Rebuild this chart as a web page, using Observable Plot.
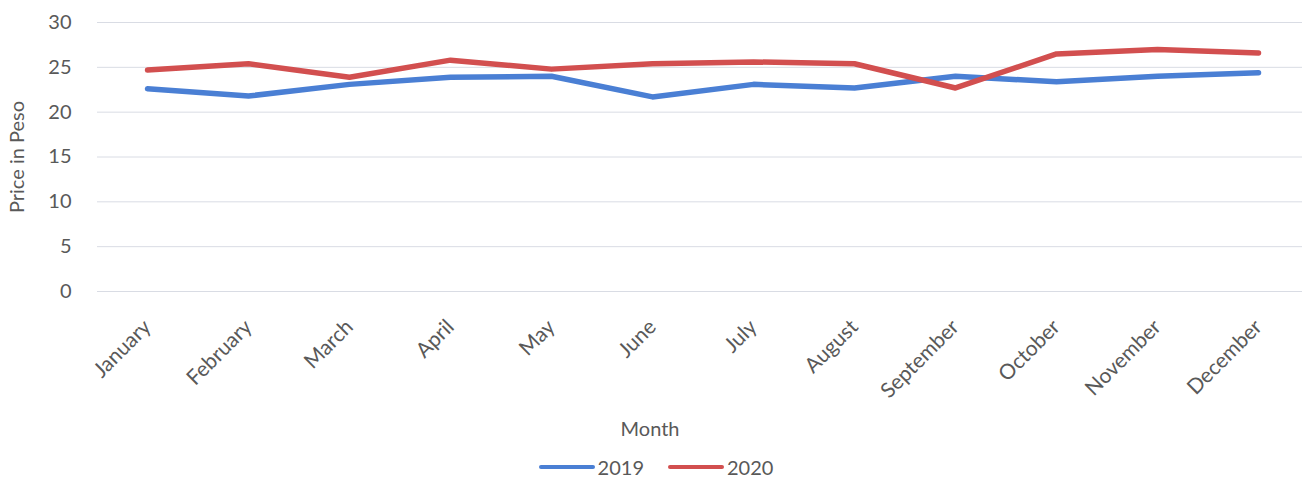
<!DOCTYPE html>
<html>
<head>
<meta charset="utf-8">
<script src="https://cdn.jsdelivr.net/npm/d3@7"></script>
<script src="https://cdn.jsdelivr.net/npm/@observablehq/plot@0.6"></script>
<style>
  html, body { margin: 0; padding: 0; background: #ffffff; }
  #chart svg { display: block; }
  #legend { display: flex; justify-content: center; align-items: center; height: 30px; font-family: Lato, sans-serif; font-size: 20px; color: #595959; gap: 0; padding-left: 10px; }
  .item { display: flex; align-items: center; margin: 0 12px; }
  .sw { width: 56px; height: 4px; margin-right: 3px; border-radius: 2px; }
</style>
</head>
<body>
<div id="chart"></div>
<div id="legend"></div>
<script>
const months = ["January","February","March","April","May","June","July","August","September","October","November","December"];
const series = ["2019", "2020"];
const v2019 = [22.6, 21.8, 23.1, 23.9, 24.0, 21.7, 23.1, 22.7, 24.0, 23.4, 24.0, 24.4];
const v2020 = [24.7, 25.4, 23.9, 25.8, 24.8, 25.4, 25.6, 25.4, 22.7, 26.5, 27.0, 26.6];
const yTicks = [0, 5, 10, 15, 20, 25, 30];
const colors = ["#4a7fd4", "#d24f4f"];

const data = [];
months.forEach((m, i) => {
  data.push({month: m, year: series[0], price: v2019[i]});
  data.push({month: m, year: series[1], price: v2020[i]});
});

const W = 1302, H = 452;
const plot = Plot.plot({
  width: W,
  height: H,
  marginLeft: 97,
  marginRight: 0,
  marginTop: 22,
  marginBottom: 161,
  style: {fontFamily: "Lato, sans-serif", fontSize: "20px", color: "#595959", background: "#ffffff"},
  x: {type: "point", domain: months, range: [143, 1262], padding: 0},
  y: {domain: [0, 30], range: [291, 22]},
  color: {domain: series, range: colors},
  marks: [
    Plot.gridY(yTicks, {stroke: "#d9dce4", strokeOpacity: 1, strokeWidth: 1}),
    Plot.axisY(yTicks, {tickSize: 0, tickPadding: 26, fontSize: 20, label: "Price in Peso", labelAnchor: "center", labelOffset: 88, labelArrow: "none"}),
    Plot.axisX({tickSize: 0, tickPadding: 32, tickRotate: -45, fontSize: 21, dx: 0, label: null}),
    Plot.text(["Month"], {frameAnchor: "bottom", dy: 138, dx: -50, fontSize: 20, fill: "#595959", lineAnchor: "middle"}),
    Plot.line(data, {x: "month", y: "price", z: "year", stroke: "year", strokeWidth: 5.5, strokeLinejoin: "round", strokeLinecap: "round"})
  ]
});
document.getElementById("chart").appendChild(plot);

const legend = document.getElementById("legend");
series.forEach((s, i) => {
  const it = document.createElement("div");
  it.className = "item";
  const sw = document.createElement("div");
  sw.className = "sw";
  sw.style.background = colors[i];
  const t = document.createElement("span");
  t.textContent = s;
  it.appendChild(sw);
  it.appendChild(t);
  legend.appendChild(it);
});
</script>
</body>
</html>
